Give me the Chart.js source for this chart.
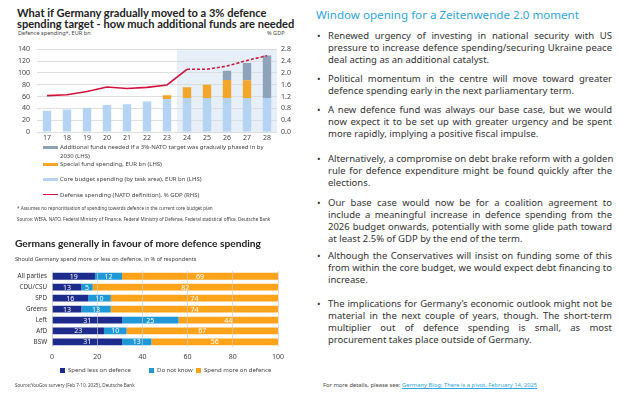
<!DOCTYPE html>
<html><head><meta charset="utf-8">
<script src="https://cdn.jsdelivr.net/npm/chart.js@4"></script>
<style>
html,body{margin:0;padding:0;background:#fff;}
body{width:620px;height:394px;position:relative;overflow:hidden;font-family:"Noto Sans",sans-serif;color:#333;}
.abs{position:absolute;}
.t1{left:17px;top:8px;font-family:Lato,sans-serif;font-weight:700;font-size:11.1px;line-height:10.8px;color:#222;width:300px;white-space:nowrap;}
.small{font-size:5.6px;color:#444;white-space:nowrap;}
.tiny{font-size:4.6px;color:#444;white-space:nowrap;}
.leg{left:43px;font-size:6px;color:#444;line-height:8.6px;}
.sw{position:absolute;left:0;width:15px;}
.leg span.tx{position:absolute;left:17px;white-space:nowrap;}
.rt{left:316px;top:7px;font-size:11.6px;color:#2ea6df;font-family:"Noto Sans",sans-serif;white-space:nowrap;}
.b{left:317px;width:295px;font-size:9.5px;line-height:11.9px;color:#333;}
.b .dot{position:absolute;left:0;top:0;}
.b .p{position:absolute;left:11px;width:284px;}
.b .p div{white-space:nowrap;text-align:justify;text-align-last:justify;}
.b .p div.l{text-align-last:left;}
.t2{left:15px;top:237px;font-family:Lato,sans-serif;font-weight:700;font-size:10.2px;color:#222;white-space:nowrap;}
.lg2{top:366px;font-size:6px;color:#444;white-space:nowrap;}
.lg2 i{display:inline-block;width:5px;height:5px;margin-right:3px;vertical-align:-0.5px;}
</style></head>
<body>
<div class="abs t1">What if Germany gradually moved to a 3% defence<br>spending target - how much additional funds are needed</div>
<div class="abs small" style="left:18px;top:29px;">Defence spending*, EUR bn</div>
<div class="abs small" style="left:267px;top:29px;">% GDP</div>
<canvas id="c1" class="abs" width="300" height="108" style="left:0;top:38px;width:300px;height:108px;"></canvas>

<div class="abs leg" style="top:143px;width:260px;height:60px;">
  <div class="sw" style="top:2.5px;height:3px;background:#8ea2ba;"></div>
  <span class="tx" style="top:0;">Additional funds needed if a 3%-NATO target was gradually phased in by<br>2030 (LHS)</span>
  <div class="sw" style="top:19.5px;height:3px;background:#f2a72a;"></div>
  <span class="tx" style="top:17px;">Special fund spending, EUR bn (LHS)</span>
  <div class="sw" style="top:34.5px;height:3px;background:#b5d3f2;"></div>
  <span class="tx" style="top:32px;">Core budget spending (by task area), EUR bn (LHS)</span>
  <div class="sw" style="top:50.5px;height:1.5px;background:#d3123c;"></div>
  <span class="tx" style="top:47.5px;">Defense spending (NATO definition), % GDP (RHS)</span>
</div>
<div class="abs tiny" style="left:17px;top:205px;">* Assumes no reprioritisation of spending towards defence in the current core budget plan</div>
<div class="abs tiny" style="left:17px;top:216px;">Source: WEFA, NATO, Federal Ministry of Finance, Federal Ministry of Defense, Federal statistical office, Deutsche Bank</div>

<div class="abs t2">Germans generally in favour of more defence spending</div>
<div class="abs small" style="left:15px;top:255px;">Should Germany spend more or less on defence, in % of respondents</div>
<canvas id="c2" class="abs" width="300" height="100" style="left:0;top:262px;width:300px;height:100px;"></canvas>
<div class="abs lg2" style="left:60px;"><i style="background:#1c2b8c"></i>Spend less on defence</div>
<div class="abs lg2" style="left:149px;"><i style="background:#1e98d6"></i>Do not know</div>
<div class="abs lg2" style="left:196px;"><i style="background:#ffa31a"></i>Spend more on defence</div>
<div class="abs tiny" style="left:15px;top:382px;">Source:YouGov survery (Feb 7-10, 2025), Deutsche Bank</div>

<div class="abs rt">Window opening for a Zeitenwende 2.0 moment</div>
<div class="abs b" style="top:30px;"><span class="dot">•</span><div class="p">
<div>Renewed urgency of investing in national security with US</div>
<div>pressure to increase defence spending/securing Ukraine peace</div>
<div class="l">deal acting as an additional catalyst.</div></div></div>
<div class="abs b" style="top:73px;"><span class="dot">•</span><div class="p">
<div>Political momentum in the centre will move toward greater</div>
<div class="l">defence spending early in the next parliamentary term.</div></div></div>
<div class="abs b" style="top:104px;"><span class="dot">•</span><div class="p">
<div>A new defence fund was always our base case, but we would</div>
<div>now expect it to be set up with greater urgency and be spent</div>
<div class="l">more rapidly, implying a positive fiscal impulse.</div></div></div>
<div class="abs b" style="top:153px;"><span class="dot">•</span><div class="p">
<div>Alternatively, a compromise on debt brake reform with a golden</div>
<div>rule for defence expenditure might be found quickly after the</div>
<div class="l">elections.</div></div></div>
<div class="abs b" style="top:197px;"><span class="dot">•</span><div class="p">
<div>Our base case would now be for a coalition agreement to</div>
<div>include a meaningful increase in defence spending from the</div>
<div>2026 budget onwards, potentially with some glide path toward</div>
<div class="l">at least 2.5% of GDP by the end of the term.</div></div></div>
<div class="abs b" style="top:250px;"><span class="dot">•</span><div class="p">
<div>Although the Conservatives will insist on funding some of this</div>
<div>from within the core budget, we would expect debt financing to</div>
<div class="l">increase.</div></div></div>
<div class="abs b" style="top:298px;"><span class="dot">•</span><div class="p">
<div>The implications for Germany’s economic outlook might not be</div>
<div>material in the next couple of years, though. The short-term</div>
<div>multiplier out of defence spending is small, as most</div>
<div class="l">procurement takes place outside of Germany.</div></div></div>
<div class="abs small" style="left:323px;top:381px;font-size:5.8px;">For more details, please see: <span style="color:#2ea6df;text-decoration:underline;">Germany Blog: There is a pivot, February 14, 2025</span></div>

<script>
// ---- Data: top chart ----
const years = ["17","18","19","20","21","22","23","24","25","26","27","28"];
const coreBudget = [36, 38, 41, 45.5, 47, 51.5, 56, 57.5, 57.5, 57.5, 57.5, 57.5];
const specialFund = [0, 0, 0, 0, 0, 0, 6, 18, 22.5, 30.5, 30, 0];
const additionalFunds = [0, 0, 0, 0, 0, 0, 0, 0, 0, 15.5, 29, 72];
const gdpShare = [1.23, 1.26, 1.37, 1.52, 1.47, 1.51, 1.59, 2.12, 2.12, 2.23, 2.42, 2.58];
const leftTicks = [0, 20, 40, 60, 80, 100, 120, 140];
const rightTicks = ["0.0","0.4","0.8","1.2","1.6","2.0","2.4","2.8"];

// ---- Data: bottom chart ----
const parties = ["All parties","CDU/CSU","SPD","Greens","Left","AfD","BSW"];
const spendLess = [19, 13, 16, 13, 31, 23, 31];
const dontKnow = [12, 5, 10, 13, 25, 10, 13];
const spendMore = [69, 82, 74, 74, 44, 67, 56];
const xTicks2 = [0, 20, 40, 60, 80, 100];

const FONT = "Noto Sans";

const shadePlugin = {
  id: 'shade',
  beforeDraw(chart) {
    const {ctx, chartArea, scales} = chart;
    const x = scales.x;
    const x0 = (x.getPixelForValue(6) + x.getPixelForValue(7)) / 2;
    ctx.save();
    ctx.fillStyle = '#e7eff9';
    ctx.fillRect(x0, chartArea.top, chartArea.right - x0, chartArea.bottom - chartArea.top);
    ctx.restore();
  }
};

new Chart(document.getElementById('c1'), {
  type: 'bar',
  data: {
    labels: years,
    datasets: [
      {type: 'line', label: 'Defense spending (NATO definition), % GDP (RHS)', data: gdpShare, yAxisID: 'y1',
       borderColor: '#d3123c', borderWidth: 1.6, pointRadius: 0, tension: 0, order: 0,
       segment: {borderDash: c => c.p0DataIndex >= 7 ? [3, 2] : undefined}},
      {label: 'Core budget spending', data: coreBudget, backgroundColor: '#b5d3f2', stack: 's', order: 1},
      {label: 'Special fund spending', data: specialFund, backgroundColor: '#f2a72a', stack: 's', order: 2},
      {label: 'Additional funds', data: additionalFunds, backgroundColor: '#8ea2ba', stack: 's', order: 3}
    ]
  },
  options: {
    responsive: false, animation: false,
    datasets: {bar: {categoryPercentage: 1, barPercentage: 0.42}},
    layout: {padding: {top: 5, left: 0, right: 0, bottom: 0}},
    plugins: {legend: {display: false}, tooltip: {enabled: false}},
    scales: {
      x: {stacked: true, grid: {display: false, drawTicks: false}, border: {display: false},
          ticks: {font: {family: FONT, size: 7}, color: '#444', padding: 2},
          afterFit: s => { s.height = 14; }},
      y: {stacked: true, min: 0, max: 140, afterBuildTicks: s => { s.ticks = leftTicks.map(v => ({value: v})); },
          grid: {color: '#d6d6d6', drawTicks: false, lineWidth: 0.8}, border: {display: false},
          ticks: {font: {family: FONT, size: 7}, color: '#444', padding: 7},
          afterFit: s => { s.width = 37; }},
      y1: {position: 'right', min: 0, max: 2.8,
          afterBuildTicks: s => { s.ticks = rightTicks.map(v => ({value: parseFloat(v)})); },
          grid: {display: false, drawTicks: false}, border: {display: false},
          ticks: {font: {family: FONT, size: 7}, color: '#444', padding: 4, callback: v => Number(v).toFixed(1)},
          afterFit: s => { s.width = 23; }}
    }
  },
  plugins: [shadePlugin]
});

const labelPlugin = {
  id: 'segLabels',
  afterDatasetsDraw(chart) {
    const {ctx} = chart;
    ctx.save();
    ctx.fillStyle = '#ffffff';
    ctx.font = '7px "' + FONT + '"';
    ctx.textAlign = 'center';
    ctx.textBaseline = 'middle';
    chart.data.datasets.forEach((ds, i) => {
      const meta = chart.getDatasetMeta(i);
      meta.data.forEach((el, j) => {
        const cx = (el.x + el.base) / 2;
        ctx.fillText(String(ds.data[j]), cx, el.y + 0.5);
      });
    });
    ctx.restore();
  }
};

new Chart(document.getElementById('c2'), {
  type: 'bar',
  data: {
    labels: parties,
    datasets: [
      {label: 'Spend less on defence', data: spendLess, backgroundColor: '#1c2b8c'},
      {label: 'Do not know', data: dontKnow, backgroundColor: '#1e98d6'},
      {label: 'Spend more on defence', data: spendMore, backgroundColor: '#ffa31a'}
    ]
  },
  options: {
    indexAxis: 'y', responsive: false, animation: false,
    datasets: {bar: {categoryPercentage: 1, barPercentage: 0.62}},
    layout: {padding: {top: 5.6, left: 0, right: 22, bottom: 0}},
    plugins: {legend: {display: false}, tooltip: {enabled: false}},
    scales: {
      x: {stacked: true, min: 0, max: 100,
          afterBuildTicks: s => { s.ticks = xTicks2.map(v => ({value: v})); },
          grid: {color: 'rgba(205,205,205,0.8)', drawTicks: false, lineWidth: 0.8, z: 1}, border: {display: false},
          ticks: {font: {family: FONT, size: 7}, color: '#444', padding: 5},
          afterFit: s => { s.height = 14.6; }},
      y: {stacked: true, grid: {display: false, drawTicks: false}, border: {display: false},
          ticks: {font: {family: FONT, size: 6.3}, color: '#333', padding: 5},
          afterFit: s => { s.width = 52; }}
    }
  },
  plugins: [labelPlugin]
});
</script>
</body></html>
